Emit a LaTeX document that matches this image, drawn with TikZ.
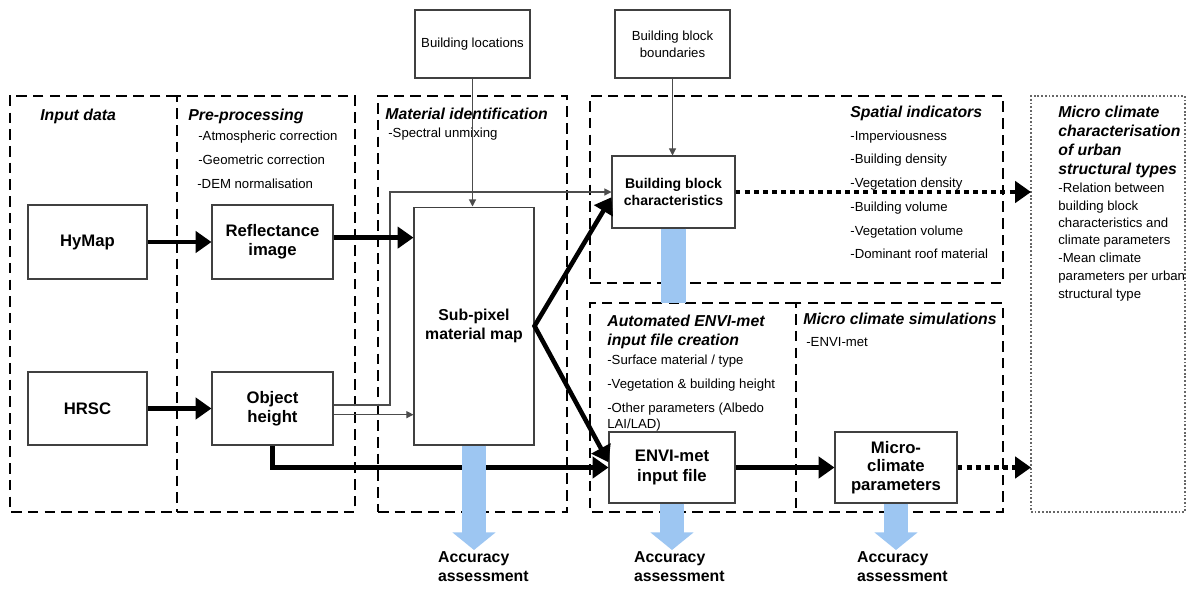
\documentclass[tikz,border=0pt]{standalone}
\usepackage{fontspec}
\setmainfont{Liberation Sans}
\usetikzlibrary{arrows.meta,positioning,fit}
\definecolor{accblue}{RGB}{157,198,242}
\tikzset{
	region/.style={
		draw,
		line width=1.1pt,
		dash pattern=on 6pt off 3.5pt,
		inner sep=0pt,
		outer sep=0pt
	},
	openregion/.style={
		region,
		draw=none
	},
	regionline/.style={
		line width=1.1pt,
		dash pattern=on 6pt off 3.5pt
	},
	dotregion/.style={
		draw=black!60,
		line width=1pt,
		dash pattern=on 1pt off 1.1pt,
		inner sep=0pt,
		outer sep=0pt
	},
	block/.style={
		draw=black!75,
		line width=0.6pt,
		fill=white,
		align=center,
		font=\bfseries\fontsize{9.5}{11}\selectfont
	},
	heading/.style={
		anchor=west,
		inner sep=0pt,
		text height=1.5ex,
		text depth=.25ex,
		font=\bfseries\itshape\fontsize{9}{10}\selectfont
	},
	item/.style={
		anchor=west,
		inner sep=0pt,
		text height=1.5ex,
		text depth=.25ex,
		font=\fontsize{7.5}{9}\selectfont
	},
	acclabel/.style={
		anchor=north west,
		align=left,
		inner sep=1pt,
		font=\bfseries\fontsize{9}{10.5}\selectfont
	},
	flow/.style={-{Triangle[length=9pt,width=12pt]}, line width=2.6pt},
	fork/.style={{Triangle[length=9pt,width=12pt]}-{Triangle[length=9pt,width=12pt]}, line width=2.6pt},
	dotflow/.style={-{Triangle[length=9pt,width=12pt]}, line width=2.8pt, dash pattern=on 2.8pt off 2.4pt},
	link/.style={-{Triangle[length=4pt,width=4pt]}, line width=0.6pt, draw=black!70},
	assess/.style={-{Triangle[length=10pt,width=24pt]}, line width=14pt, draw=accblue},
	bluebar/.style={line width=14pt, draw=accblue}
}

\begin{document}
\begin{tikzpicture}[x=0.02cm,y=-0.02cm]
	\useasboundingbox (0,0) rectangle (1190,592);

	% processing stages
	\node [openregion,fit={(10,96) (177,512)}] (input) {};
	\draw[regionline] (input.north east) -- (input.north west) -- (input.south west) -- (input.south east);
	\node [region,fit={(177,96) (355,512)}] (prep) {};
	\node [region,fit={(378,96) (567,512)}] (matid) {};
	\node [region,fit={(590,96) (1003,283)}] (spatial) {};
	\node [openregion,fit={(590,303) (796,512)}] (auto) {};
	\draw[regionline] (auto.north east) -- (auto.north west) -- (auto.south west) -- (auto.south east);
	\node [region,fit={(796,303) (1003,512)}] (msim) {};
	\node [dotregion,fit={(1031,96) (1185,512)}] (mchar) {};

	\node [heading] (tinput) at (40,115) {Input data};
	\node [heading] (tprep) at (188,115) {Pre-processing};
	\node [item] (p1) at (198,135) {-Atmospheric correction};
	\node [item] (p2) at (198,159) {-Geometric correction};
	\node [item] (p3) at (197,183) {-DEM normalisation};
	\node [heading] (tmat) at (385,114) {Material identification};
	\node [item] (m1) at (388,132) {-Spectral unmixing};
	\node [heading] (tspat) at (850,112) {Spatial indicators};
	\node [item] (s1) at (850,135) {-Imperviousness};
	\node [item] (s2) at (850,158) {-Building density};
	\node [item] (s3) at (850,182) {-Vegetation density};
	\node [item] (s4) at (850,206) {-Building volume};
	\node [item] (s5) at (850,230) {-Vegetation volume};
	\node [item] (s6) at (850,253) {-Dominant roof material};
	\node [heading] (tauto1) at (607,321) {Automated ENVI-met};
	\node [heading] (tauto2) at (607,340) {input file creation};
	\node [item] (a1) at (607,359) {-Surface material / type};
	\node [item] (a2) at (607,383) {-Vegetation \& building height};
	\node [item] (a3) at (607,407) {-Other parameters (Albedo};
	\node [item] (a4) at (607,423) {LAI/LAD)};
	\node [heading] (tsim) at (803,319) {Micro climate simulations};
	\node [item] (e1) at (806,341) {-ENVI-met};
	\node [heading] (tchar1) at (1058,112) {Micro climate};
	\node [heading] (tchar2) at (1058,131) {characterisation};
	\node [heading] (tchar3) at (1058,150) {of urban};
	\node [heading] (tchar4) at (1058,169) {structural types};
	\node [item] (c1) at (1058,187) {-Relation between};
	\node [item] (c2) at (1058,205) {building block};
	\node [item] (c3) at (1058,222) {characteristics and};
	\node [item] (c4) at (1058,239) {climate parameters};
	\node [item] (c5) at (1058,257) {-Mean climate};
	\node [item] (c6) at (1058,275) {parameters per urban};
	\node [item] (c7) at (1058,293) {structural type};

	% data and products
	\node [block,minimum width=2.38cm,minimum height=1.48cm] (hymap) at (87.5,242) {HyMap};
	\node [block,minimum width=2.42cm,minimum height=1.48cm] (refl) at (272.5,242) {Reflectance\\image};
	\node [block,minimum width=2.38cm,minimum height=1.46cm] (hrsc) at (87.5,408.5) {HRSC};
	\node [block,minimum width=2.42cm,minimum height=1.46cm] (objh) at (272.5,408.5) {Object\\height};
	\node [block,minimum width=2.4cm,minimum height=4.76cm,font=\bfseries\fontsize{9}{11}\selectfont] (subpix) at (474,326) {Sub-pixel\\material map};
	\node [block,minimum width=2.3cm,minimum height=1.36cm,font=\fontsize{7.5}{9.5}\selectfont] (bloc) at (472.5,44) {Building locations};
	\node [block,minimum width=2.3cm,minimum height=1.36cm,font=\fontsize{7.5}{9.5}\selectfont] (bbound) at (672.5,44) {Building block\\boundaries};
	\node [block,minimum width=2.46cm,minimum height=1.44cm,font=\bfseries\fontsize{8}{10}\selectfont] (bbchar) at (673.5,192) {Building block\\characteristics};
	\node [block,minimum width=2.52cm,minimum height=1.42cm] (envi) at (672,467.5) {ENVI-met\\input file};
	\node [block,minimum width=2.44cm,minimum height=1.42cm,font=\bfseries\fontsize{9.5}{10.5}\selectfont] (mcpar) at (896,467.5) {Micro-\\climate\\parameters};

	\node [acclabel] (acc1) at (436,550) {Accuracy\\assessment};
	\node [acclabel] (acc2) at (632,550) {Accuracy\\assessment};
	\node [acclabel] (acc3) at (855,550) {Accuracy\\assessment};

	% connectors
	\coordinate (reflout) at ([yshift=2.5pt]refl.east);
	\coordinate (ohup) at ([yshift=2pt]objh.east);
	\coordinate (ohdown) at ([yshift=-3.5pt]objh.east);
	\coordinate (bend) at (390,0 |- bbchar.west);
	\draw[link] (ohup) -| (bend) -- (bbchar.west);
	\draw[link] (ohdown) -- (ohdown -| subpix.west);
	\draw[link] (bloc.south) -- (bloc.south |- subpix.north);
	\draw[link] (bbound.south) -- (bbound.south |- bbchar.north);
	\draw[flow] (hymap) -- (refl);
	\draw[flow] (hrsc) -- (objh);
	\draw[flow] (reflout) -- (reflout -| subpix.west);
	\draw[fork] ([yshift=-3pt]bbchar.west) -- (subpix.east) -- ([yshift=3pt]envi.west);
	\draw[flow] (objh.south) |- (envi.west);
	\draw[flow] (envi) -- (mcpar);
	\draw[dotflow] (bbchar.east) -- (bbchar.east -| mchar.west);
	\draw[dotflow] (mcpar.east) -- (mcpar.east -| mchar.west);

	\draw[bluebar] (bbchar.south) -- (bbchar.south |- auto.north);
	\draw[assess] (subpix.south) -- (subpix.south |- acc1.north);
	\draw[assess] (envi.south) -- (envi.south |- acc2.north);
	\draw[assess] (mcpar.south) -- (mcpar.south |- acc3.north);
\end{tikzpicture}
\end{document}
